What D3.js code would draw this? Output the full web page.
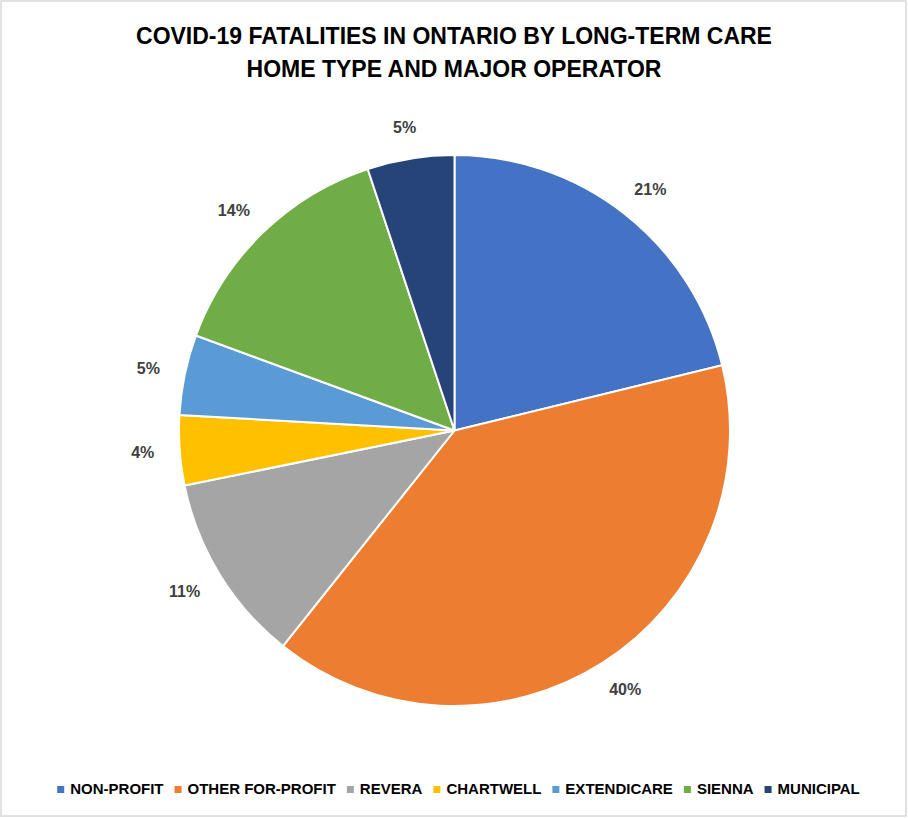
<!DOCTYPE html>
<html>
<head>
<meta charset="utf-8">
<script src="https://cdn.jsdelivr.net/npm/d3@7"></script>
<style>
  html, body { margin: 0; padding: 0; background: #fff; }
  svg { display: block; }
</style>
</head>
<body>
<svg id="chart" width="908" height="818"></svg>
<script>
const titleLines = ["COVID-19 FATALITIES IN ONTARIO BY LONG-TERM CARE", "HOME TYPE AND MAJOR OPERATOR"];
const categories = ["NON-PROFIT", "OTHER FOR-PROFIT", "REVERA", "CHARTWELL", "EXTENDICARE", "SIENNA", "MUNICIPAL"];
const values = [21.2, 39.5, 11.1, 4.1, 4.7, 14.3, 5.1];
const colors = ["#4472C4", "#ED7D31", "#A5A5A5", "#FFC000", "#5B9BD5", "#70AD47", "#264478"];

const W = 908, H = 818;
const svg = d3.select("#chart");
const FONT = "'Liberation Sans', Arial, sans-serif";

// border
svg.append("rect").attr("x", 1).attr("y", 1).attr("width", W - 3).attr("height", H - 3)
  .attr("fill", "#fff").attr("stroke", "#d9d9d9").attr("stroke-width", 1.5);

// title
svg.append("g").selectAll("text").data(titleLines).join("text")
  .attr("x", 454).attr("y", (d, i) => 44 + i * 33)
  .attr("text-anchor", "middle")
  .attr("font-family", FONT).attr("font-weight", "bold").attr("font-size", 23)
  .attr("fill", "#000").text(d => d);

// pie
const cx = 454.5, cy = 430.5, r = 275.5;
const data = categories.map((c, i) => ({ cat: c, value: values[i] }));
const pie = d3.pie().sort(null).value(d => d.value);
const arcs = pie(data);
const arc = d3.arc().innerRadius(0).outerRadius(r);
const color = d3.scaleOrdinal().domain(categories).range(colors);

const g = svg.append("g").attr("transform", `translate(${cx},${cy})`);
g.selectAll("path").data(arcs).join("path")
  .attr("d", arc)
  .attr("fill", d => color(d.data.cat))
  .attr("stroke", "#fff").attr("stroke-width", 2).attr("stroke-linejoin", "round");

const total = d3.sum(values);
const R = r + 25.5, hh = 6;
g.selectAll("text.lbl").data(arcs).join("text").attr("class", "lbl")
  .attr("text-anchor", "middle").attr("dy", "0.36em")
  .attr("font-family", FONT).attr("font-weight", "bold").attr("font-size", 16)
  .attr("fill", "#404040")
  .text(d => Math.round(d.data.value / total * 100) + "%")
  .attr("transform", function (d) {
    const a = (d.startAngle + d.endAngle) / 2;
    const ux = Math.sin(a), uy = -Math.cos(a);
    const hw = this.getComputedTextLength() / 2;
    return `translate(${R * ux + ux * hw},${R * uy + uy * hh})`;
  });

// legend
const legend = svg.append("g");
const items = legend.selectAll("g").data(categories).join("g");
items.append("rect").attr("width", 7).attr("height", 7).attr("y", -8)
  .attr("fill", d => color(d));
items.append("text").attr("x", 13).attr("y", 0)
  .attr("font-family", FONT).attr("font-weight", "bold").attr("font-size", 15)
  .attr("fill", "#000").text(d => d);
let x = 0;
const gap = 11;
items.each(function () {
  const w = 13 + this.querySelector("text").getComputedTextLength();
  d3.select(this).attr("transform", `translate(${x},0)`);
  x += w + gap;
});
const totalW = x - gap;
legend.attr("transform", `translate(${(458.5 - totalW / 2)},794)`);
</script>
</body>
</html>
